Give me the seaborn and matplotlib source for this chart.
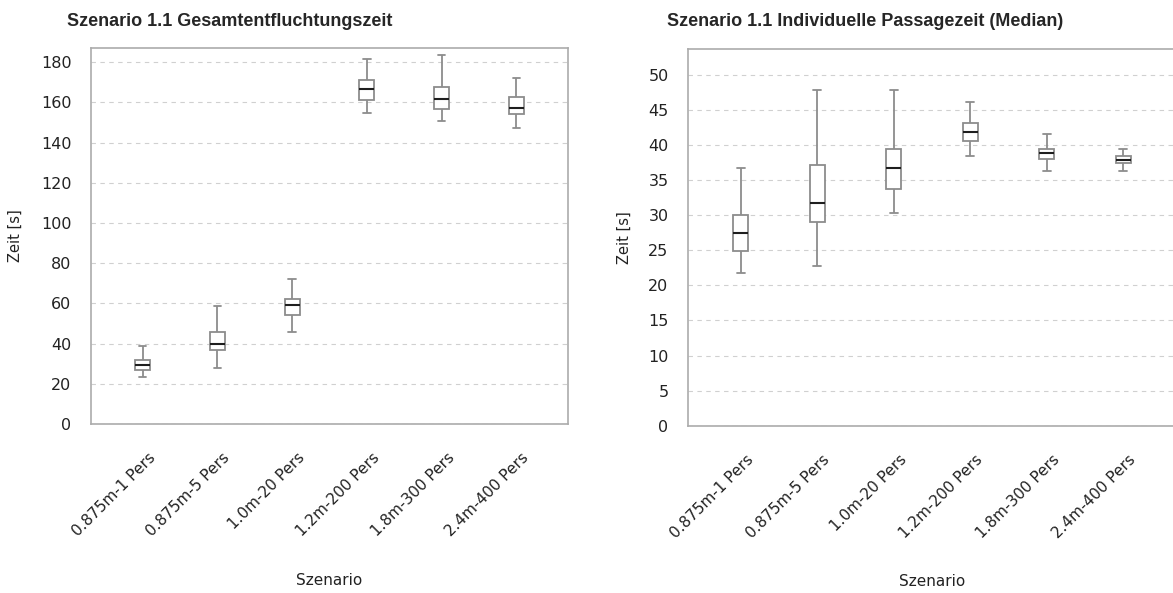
import numpy as np
import pandas as pd
import matplotlib
matplotlib.use("Agg")
import matplotlib.pyplot as plt
import matplotlib.transforms as mtransforms
import seaborn as sns

categories = ["0.875m-1 Pers", "0.875m-5 Pers", "1.0m-20 Pers",
              "1.2m-200 Pers", "1.8m-300 Pers", "2.4m-400 Pers"]

# five-number summaries: whisker low, Q1, median, Q3, whisker high
total_low = [23.3, 27.8, 45.7, 154.6, 150.5, 147.2]
total_q1 = [27.0, 36.9, 54.0, 161.3, 156.8, 154.0]
total_med = [29.5, 39.9, 59.0, 166.4, 161.4, 157.3]
total_q3 = [32.0, 45.7, 62.0, 170.9, 167.6, 162.6]
total_high = [39.0, 58.6, 72.2, 181.3, 183.3, 172.0]

indiv_low = [21.7, 22.7, 30.3, 38.4, 36.3, 36.3]
indiv_q1 = [24.9, 29.0, 33.7, 40.6, 38.0, 37.5]
indiv_med = [27.4, 31.8, 36.8, 41.8, 38.9, 37.9]
indiv_q3 = [30.0, 37.1, 39.4, 43.1, 39.4, 38.4]
indiv_high = [36.8, 47.9, 47.9, 46.1, 41.6, 39.4]

left_yticks = [0, 20, 40, 60, 80, 100, 120, 140, 160, 180]
right_yticks = [0, 5, 10, 15, 20, 25, 30, 35, 40, 45, 50]


def long_frame(lo, q1, med, q3, hi):
    rows = []
    for c, a, b, m, d, e in zip(categories, lo, q1, med, q3, hi):
        for v in (a, b, m, d, e):
            rows.append({"Szenario": c, "Zeit": v})
    return pd.DataFrame(rows)


df_total = long_frame(total_low, total_q1, total_med, total_q3, total_high)
df_indiv = long_frame(indiv_low, indiv_q1, indiv_med, indiv_q3, indiv_high)

sns.set_style("white")
plt.rcParams["font.family"] = ["DejaVu Sans"]

W, H = 1173, 593
fig = plt.figure(figsize=(W / 100, H / 100), dpi=100)

def px_axes(x0, y0, x1, y1):
    return fig.add_axes([x0 / W, 1 - y1 / H, (x1 - x0) / W, (y1 - y0) / H])

ax1 = px_axes(91, 48, 568, 424)
ax2 = px_axes(688, 49, 1176, 425.7)

edge = "#8c8c8c"
setups = [(ax1, df_total, (0, 187), left_yticks, -0.143),
          (ax2, df_indiv, (0, 53.7), right_yticks, -0.115)]
for ax, df, yl, yt, ylx in setups:
    sns.boxplot(data=df, x="Szenario", y="Zeit", ax=ax, order=categories,
                whis=(0, 100), width=0.2, color="white", linecolor=edge,
                linewidth=1.3, fliersize=0,
                medianprops=dict(color="#1e1e1e", linewidth=1.5),
                capprops=dict(color=edge, linewidth=1.3),
                whiskerprops=dict(color=edge, linewidth=1.3))
    ax.set_xlim(-0.69, 5.69)
    ax.set_ylim(*yl)
    ax.set_yticks(yt)
    ax.set_yticklabels([str(v) for v in yt], fontsize=11.5, color="#222222")
    ax.yaxis.grid(True, linestyle=(0, (4, 4)), color="#d0d0d0", linewidth=0.8)
    ax.xaxis.grid(False)
    ax.set_axisbelow(True)
    for s in ax.spines.values():
        s.set_visible(True)
        s.set_color("#ababab")
        s.set_linewidth(1.2)
    ax.tick_params(axis="y", direction="out", length=5, width=1,
                   color="#ababab", pad=9)
    ax.tick_params(axis="x", direction="out", length=5, width=1,
                   color="#ababab", pad=14)
    ax.set_xticks(range(len(categories)))
    ax.set_xticklabels(categories, rotation=45, ha="right",
                       rotation_mode="anchor", fontsize=11, color="#222222")
    for lab in ax.get_xticklabels():
        lab.set_transform(lab.get_transform() +
                          mtransforms.ScaledTranslation(5 / 100, 0, fig.dpi_scale_trans))
    ax.set_xlabel("Szenario", fontsize=11, color="#222222")
    ax.xaxis.set_label_coords(0.5, -0.395)
    ax.set_ylabel("Zeit [s]", fontsize=10.5, color="#222222")
    ax.yaxis.set_label_coords(ylx, 0.5)

fig.text(230 / W, 1 - 21 / H, "Szenario 1.1 Gesamtentfluchtungszeit",
         ha="center", va="center", fontsize=13, fontweight="bold",
         family=["Liberation Sans"])
fig.text(865 / W, 1 - 21 / H, "Szenario 1.1 Individuelle Passagezeit (Median)",
         ha="center", va="center", fontsize=13, fontweight="bold",
         family=["Liberation Sans"])

fig.savefig("out.png", dpi=100, facecolor="white")
